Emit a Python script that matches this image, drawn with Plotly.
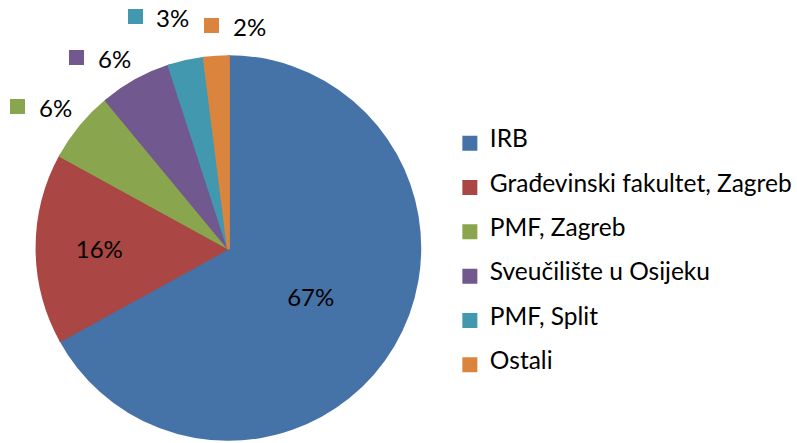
import math
import plotly.graph_objects as go

categories = ["IRB", "Građevinski fakultet, Zagreb", "PMF, Zagreb",
              "Sveučilište u Osijeku", "PMF, Split", "Ostali"]
values = [67, 16, 6, 6, 3, 2]
colors = ["#4572A7", "#AA4643", "#89A54E", "#71588F", "#4198AF", "#DB843D"]
text_positions = ["inside", "inside", "outside", "outside", "outside", "outside"]

FONT = "Lato, 'Liberation Sans', sans-serif"
W, H = 797, 443
CX, CY = 231, 248                 # pie centre in pixels
R = 193.5                          # domain radius (slice outline adds ~1.5px)
GAP = 13.5                         # distance of outside labels from the rim
LW, LH = 61, 17                    # approx. outside label box size
KEY = 15                           # legend-key square size in outside labels
KF = 2.1                           # how fast the label anchor swings to a corner

total = sum(values)
templates = ["%{percent:.0%}" if p == "inside" else "" for p in text_positions]
legend_labels = [f" <br><span style='font-size:24.5px'>{c}</span><br> " for c in categories]

fig = go.Figure(go.Pie(
    labels=legend_labels,
    values=values,
    sort=False,
    direction="clockwise",
    rotation=0,
    marker=dict(colors=colors, line=dict(width=3, color=colors)),
    texttemplate=templates,
    textposition=["inside" if p == "inside" else "none" for p in text_positions],
    insidetextorientation="horizontal",
    textfont=dict(family=FONT, size=24, color="#000000"),
    domain=dict(x=[(CX - R) / W, (CX + R) / W], y=[1 - (CY + R) / H, 1 - (CY - R) / H]),
    hoverinfo="percent",
))

# outside labels (legend key + percentage), placed from each slice's mid-angle
boxes = []
cum = 0
for v, col, pos in zip(values, colors, text_positions):
    mid = (cum + v / 2) / total * 2 * math.pi
    cum += v
    if pos != "outside":
        continue
    sx, sy = math.sin(mid), -math.cos(mid)
    px, py = CX + (R + GAP) * sx, CY + (R + GAP) * sy
    ax = max(-1, min(1, sx * KF))
    ay = max(-1, min(1, sy * KF))
    boxes.append([px + LW / 2 * ax, py + LH / 2 * ay, v, col])

# resolve collisions between neighbouring labels
for i in range(1, len(boxes)):
    a, b = boxes[i - 1], boxes[i]
    dx, dy = b[0] - a[0], b[1] - a[1]
    if abs(dy) < LH and abs(dx) < LW + 16:
        need = LW + 16 - abs(dx)
        a[0] -= need * 0.35
        b[0] += need * 0.65
        a[1] -= LH + 3
        b[1] -= LH * 0.35

for bx, by, v, col in boxes:
    pct = round(v / total * 100)
    left = bx - LW / 2
    fig.add_annotation(
        x=left / W, y=1 - (by - 1) / H, xref="paper", yref="paper",
        xanchor="left", yanchor="middle", showarrow=False,
        text=" ", width=KEY, height=KEY, bgcolor=col,
        borderpad=0, borderwidth=0, font=dict(size=4),
    )
    fig.add_annotation(
        x=(left + 27) / W, y=1 - by / H, xref="paper", yref="paper",
        xanchor="left", yanchor="middle", showarrow=False,
        text=f"{pct}%",
        font=dict(family=FONT, size=24, color="#000000"),
    )

fig.update_layout(
    width=W, height=H,
    margin=dict(l=0, r=0, t=0, b=0),
    paper_bgcolor="white",
    plot_bgcolor="white",
    showlegend=True,
    legend=dict(
        x=455 / W, xanchor="left",
        y=1 - 254.5 / H, yanchor="middle",
        font=dict(family=FONT, size=10.6, color="#000000"),
        bgcolor="rgba(0,0,0,0)",
    ),
    font=dict(family=FONT),
)

fig.write_html("out.html", config={"displayModeBar": False},
               post_script="document.body.style.margin='0';")
